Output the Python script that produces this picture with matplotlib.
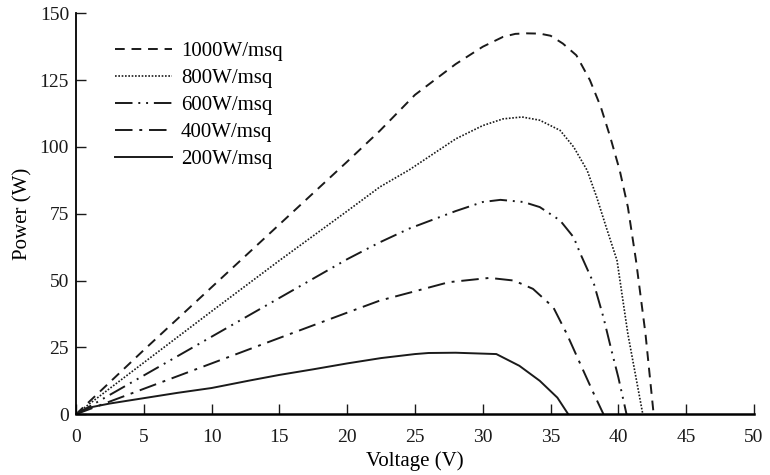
import matplotlib
matplotlib.use('Agg')
import matplotlib.pyplot as plt

plt.rcParams['font.family'] = ['Liberation Serif', 'DejaVu Serif']

# P-V curves
v_1000 = [0, 1, 5, 10, 15, 20, 22.4, 25, 28, 30, 31.5, 32.4, 33.2, 34.2, 35, 35.9, 36.9, 37.9, 38.7, 39.4, 40.1, 40.7, 41.3, 42.0, 42.6]
p_1000 = [0, 4.8, 24, 47.5, 71, 94.5, 106, 119.5, 131, 137.5, 141.2, 142.3, 142.5, 142.4, 141.6, 138.7, 134.3, 125, 115, 103.7, 91.2, 77.5, 57.5, 30, 0]

v_800 = [0, 1, 5, 10, 15, 20, 22.4, 24.6, 28, 30, 31.5, 32.9, 34.2, 35.7, 36.7, 37.7, 38.4, 39.1, 39.9, 40.7, 41.8]
p_800 = [0, 3.9, 19.3, 38.5, 57.5, 76, 85, 91.5, 103, 108, 110.5, 111.2, 110, 106.2, 100, 91.2, 81.2, 70, 57.5, 30, 0]

v_600 = [0, 1, 5, 10, 15, 20, 22.4, 24.6, 28, 30, 31.3, 33, 34.2, 35.7, 36.7, 37.2, 38.2, 38.9, 39.5, 40.0, 40.6]
p_600 = [0, 2.9, 14.5, 29, 43.5, 58, 64.3, 69.5, 76, 79.4, 80.2, 79.4, 77.5, 72.5, 66.2, 60, 48.7, 36.2, 23.7, 13.7, 0]

v_400 = [0, 1, 5, 10, 14.3, 20, 22.4, 25, 27.5, 30.5, 32.3, 33.7, 35.2, 36.2, 37.2, 38.2, 38.9]
p_400 = [0, 1.9, 9.5, 19, 27.2, 38, 42.5, 46, 49.4, 51, 50, 46.9, 40, 30, 18.7, 7.5, 0]

v_200 = [0, 1, 2.5, 5, 7.5, 10, 12.8, 15, 17.5, 20, 22.5, 25, 26, 28, 31, 32.7, 34.2, 35.5, 36.3]
p_200 = [0, 2.5, 4, 6, 8, 9.8, 12.6, 14.7, 16.8, 19, 21, 22.5, 22.9, 23, 22.5, 18.1, 12.5, 6.2, 0]

labels = ['1000W/msq', '800W/msq', '600W/msq', '400W/msq', '200W/msq']

fig = plt.figure(figsize=(7.7, 4.75), dpi=100)
ax = fig.add_axes([0.0987, 0.128, 0.8805, 0.844])

c = '#1a1a1a'
ax.plot(v_1000, p_1000, color=c, lw=1.4, dashes=(5, 3.5), label=labels[0])
ax.plot(v_800, p_800, color=c, lw=1.2, dashes=(1, 1), label=labels[1])
ax.plot(v_600, p_600, color=c, lw=1.4, dashes=(9, 3, 1, 3, 1, 3), label=labels[2])
ax.plot(v_400, p_400, color=c, lw=1.4, dashes=(9, 3.5, 1.5, 3.5), label=labels[3])
ax.plot(v_200, p_200, color=c, lw=1.4, label=labels[4])

ax.set_xlim(0, 50)
ax.set_ylim(0, 150)
ax.set_xticks(range(0, 51, 5))
ax.set_yticks(range(0, 151, 25))
ax.spines['top'].set_visible(False)
ax.spines['right'].set_visible(False)
ax.spines['left'].set_linewidth(1.3)
ax.spines['bottom'].set_linewidth(1.8)
ax.tick_params(direction='in', length=7, width=1, labelsize=14, colors=c)
ax.tick_params(axis='x', pad=10.5)
ax.tick_params(axis='y', pad=5)
ax.set_xlabel('Voltage (V)', fontsize=15, labelpad=4)
ax.set_ylabel('Power (W)', fontsize=15, labelpad=5)

ax.legend(loc='upper left', bbox_to_anchor=(0.057, 0.93), frameon=False,
          fontsize=15, handlelength=2.75, handletextpad=0.43, labelspacing=0.36,
          borderpad=0, borderaxespad=0)

fig.savefig('out.png', dpi=100)
